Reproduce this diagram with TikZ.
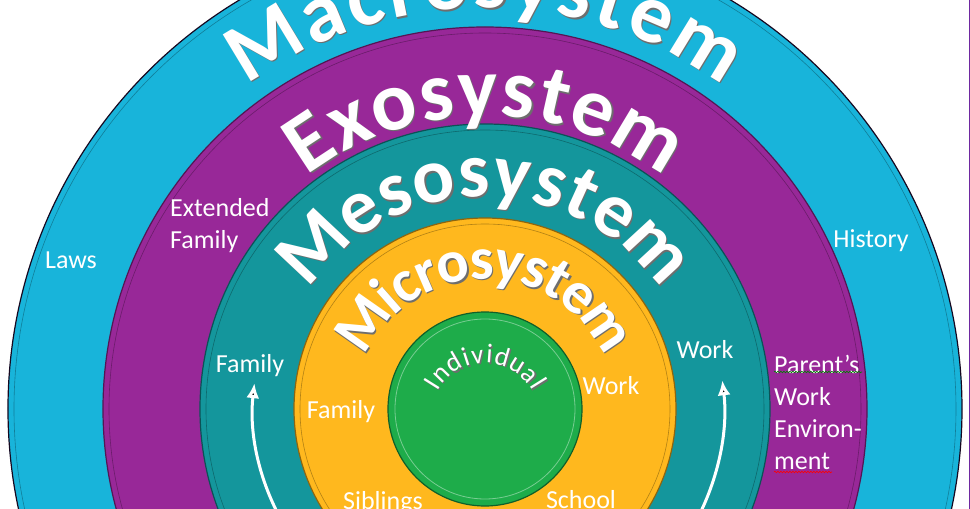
\documentclass[tikz,border=0pt]{standalone}
\usepackage{fontspec}
\setmainfont{Carlito}
\usetikzlibrary{
  arrows.meta,
  decorations.text,
  decorations.pathmorphing
}
\definecolor{macro}{RGB}{24,180,218}
\definecolor{exo}{RGB}{152,40,152}
\definecolor{meso}{RGB}{20,150,156}
\definecolor{micro}{RGB}{255,184,30}
\definecolor{indiv}{RGB}{30,172,74}
\definecolor{embossgray}{RGB}{110,110,110}
\definecolor{frame}{RGB}{110,40,160}

% Fonts for the ring titles.
\newcommand{\macrofont}{\bfseries\fontsize{84}{84}\selectfont}
\newcommand{\exofont}{\bfseries\fontsize{84}{84}\selectfont}
\newcommand{\mesofont}{\bfseries\fontsize{78}{78}\selectfont}
\newcommand{\microfont}{\bfseries\fontsize{60}{60}\selectfont}
\newcommand{\indivfont}{\fontsize{27}{27}\selectfont}

% Title set along an arc through the middle of its letters:
% radius, start angle, end angle, raise, font, text.
\newcommand{\ringtext}[6]{%
  \path[decorate, xshift=1.4pt, yshift=-1.4pt,
        decoration={text along path, text align=fit to path, raise=#4,
                    text color=embossgray, text={|#5|#6}}]
    (#2:#1) arc[start angle=#2, end angle=#3, radius=#1];
  \path[decorate,
        decoration={text along path, text align=fit to path, raise=#4,
                    text color=white, text={|#5|#6}}]
    (#2:#1) arc[start angle=#2, end angle=#3, radius=#1];}

\tikzset{
  % For the filled discs.
  ring/.style={
    fill=#1,
    draw=#1!55!black,
    line width=1.2pt},
%
  % For the thin bevel line inside each disc.
  ring edge/.style={
    draw=#1!70!black,
    line width=0.6pt},
%
  % For the small white labels.
  label/.style={
    text=white,
    font=\fontsize{26}{32}\selectfont,
    inner sep=0pt},
%
  % For the curved arrows of the mesosystem.
  link arrow/.style={
    draw=white,
    line width=3pt,
    -{Latex[length=15pt,width=13pt]}},
%
  % For the spell-check marks.
  squiggle/.style={
    decorate,
    decoration={snake, segment length=3pt, amplitude=0.8pt},
    line width=0.6pt},
}

\begin{document}
\begin{tikzpicture}[x=1pt, y=1pt]
  \useasboundingbox (-485,-100) rectangle (485,409);
  \clip (-485,-100) rectangle (485,409);
  \fill[white] (-485,-100) rectangle (485,409);
  \draw[frame, line width=0.8pt] (484,409) -- (484,-100);

  \draw[ring=macro, draw=black!80!frame] (0,0) circle[radius=477];
  \draw[ring edge=macro] (0,0) circle[radius=471];
  \draw[ring=exo] (0,0) circle[radius=382];
  \draw[ring edge=exo] (0,0) circle[radius=376];
  \draw[ring=meso] (0,0) circle[radius=285];
  \draw[ring edge=meso] (0,0) circle[radius=279];
  \draw[ring=micro] (0,0) circle[radius=191];
  \draw[ring edge=micro] (0,0) circle[radius=185];
  \draw[ring=indiv] (0,0) circle[radius=97];
  \draw[draw=indiv!60!white, line width=0.8pt] (0,0) circle[radius=90];

  \ringtext{428}{126}{54}{-27pt}{\macrofont}{Macrosystem}
  \ringtext{320}{127}{53}{-27pt}{\exofont}{Exosystem}
  \ringtext{237}{145}{35}{-25pt}{\mesofont}{Mesosystem}
  \ringtext{149}{155}{25}{-19pt}{\microfont}{Microsystem}
  \begin{scope}[yshift=-8pt]
    \ringtext{62}{151}{29}{-8pt}{\indivfont}{Individual}
  \end{scope}

  \node[label] (laws) at (-414,149) {Laws};
  \node[label, align=left, anchor=west] (extfamily) at (-315,183)
    {Extended\\Family};
  \node[label] (history) at (386,168) {History};
  \node[label, align=left, anchor=west] (parentwork) at (289,-3)
    {Parent’s\\Work\\Environ-\\ment};

  \node[label] (mesofamily) at (-235,43) {Family};
  \node[label] (mesowork) at (220,59) {Work};

  \node[label] (microfamily) at (-144,-3) {Family};
  \node[label] (microwork) at (126,23) {Work};
  \node[label] (siblings) at (-102,-94) {Siblings};
  \node[label] (school) at (96,-91) {School};

  \draw[link arrow] (215:232) arc[start angle=215, end angle=173.6, radius=232];
  \draw[link arrow] (-30:239) arc[start angle=-30, end angle=6.9, radius=239];

  \draw[squiggle, green!50!black] (289,37) -- (377,37);
  \draw[squiggle, red] (289,-63) -- (347,-63);
\end{tikzpicture}
\end{document}
